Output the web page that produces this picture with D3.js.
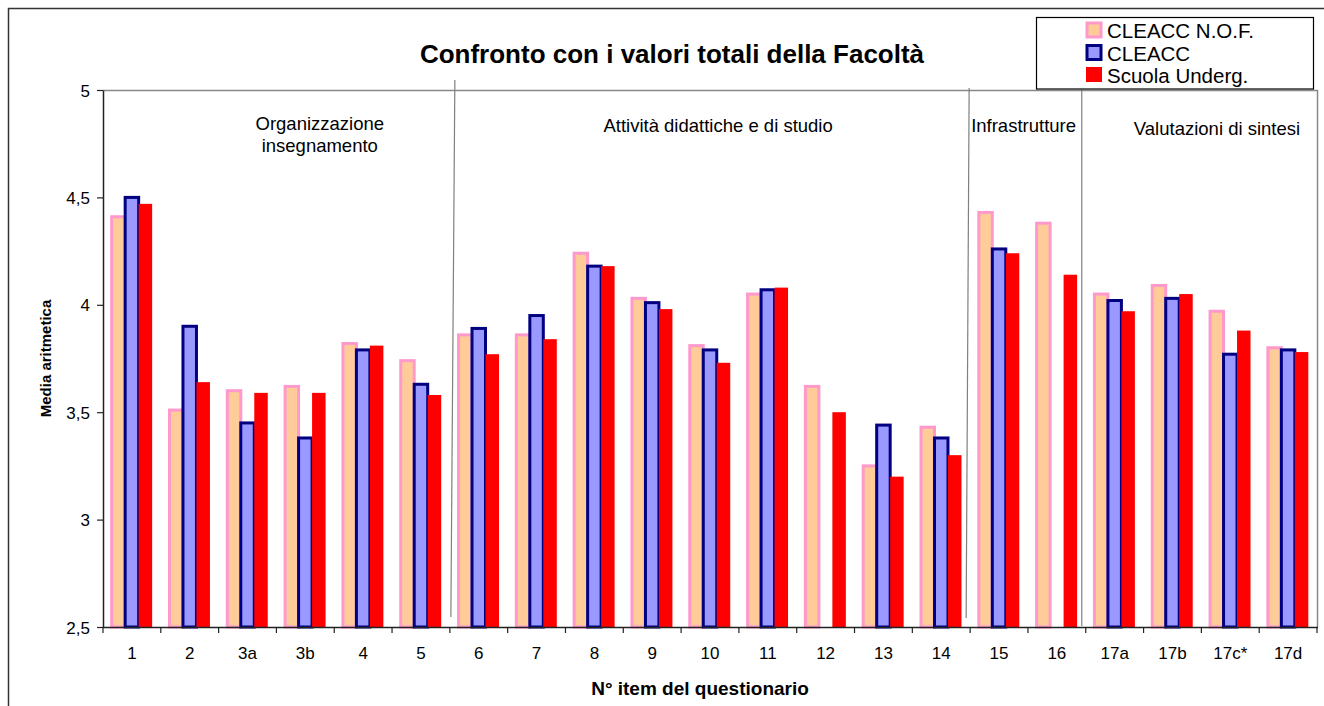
<!DOCTYPE html>
<html>
<head>
<meta charset="utf-8">
<script src="https://cdn.jsdelivr.net/npm/d3@7"></script>
<style>
  body { margin: 0; background: #fff; }
  svg { display: block; }
  text { font-family: "Liberation Sans", Arial, sans-serif; fill: #000; }
</style>
</head>
<body>
<svg id="chart" width="1324" height="706"></svg>
<script>
// Questionnaire items (x axis)
const categories = ["1","2","3a","3b","4","5","6","7","8","9","10","11","12","13","14","15","16","17a","17b","17c*","17d"];

// Mean scores per series (null = not surveyed)
const cleaccNOF = [4.41,3.51,3.60,3.62,3.82,3.74,3.86,3.86,4.24,4.03,3.81,4.05,3.62,3.25,3.43,4.43,4.38,4.05,4.09,3.97,3.80];
const cleacc    = [4.50,3.90,3.45,3.38,3.79,3.63,3.89,3.95,4.18,4.01,3.79,4.07,null,3.44,3.38,4.26,null,4.02,4.03,3.77,3.79];
const scuola    = [4.47,3.64,3.59,3.59,3.81,3.58,3.77,3.84,4.18,3.98,3.73,4.08,3.50,3.20,3.30,4.24,4.14,3.97,4.05,3.88,3.78];

const seriesNames = ["CLEACC N.O.F.", "CLEACC", "Scuola Underg."];
const yTicks = [2.5, 3, 3.5, 4, 4.5, 5];

// Questionnaire sections: label lines and first item of each section
const sectionLabels = [["Organizzazione", "insegnamento"], ["Attività didattiche e di studio"], ["Infrastrutture"], ["Valutazioni di sintesi"]];
const sectionFirst = ["1", "6", "15", "17a"];

const titleText = "Confronto con i valori totali della Facoltà";
const yTitle = "Media aritmetica";
const xTitle = "N° item del questionario";

const series = [
  { name: seriesNames[0], values: cleaccNOF, fill: "#FFCC99", stroke: "#FF99CC", sw: 3 },
  { name: seriesNames[1], values: cleacc,    fill: "#9999FF", stroke: "#000080", sw: 3 },
  { name: seriesNames[2], values: scuola,    fill: "#FF0000", stroke: "none",    sw: 0 }
];

const svg = d3.select("#chart");
const plot = { left: 103, right: 1317, top: 90, bottom: 627 };

const x0 = d3.scaleBand().domain(categories).range([plot.left, plot.right])
  .paddingInner(0.3).paddingOuter(0.15);
const x1 = d3.scaleBand().domain(d3.range(series.length)).range([0, x0.bandwidth()]);
const y = d3.scaleLinear().domain([2.5, 5]).range([plot.bottom, plot.top]);

const step = x0.step();
const boundary = c => x0(c) - step * x0.paddingInner() / 2;

// Outer chart frame (top and left edges visible)
svg.append("path").attr("d", "M8.5,706 V8.5 H1324")
  .attr("fill", "none").attr("stroke", "#333").attr("stroke-width", 1.5);

// Plot area border (top and right)
svg.append("path")
  .attr("d", `M${plot.left},${plot.top + 0.5} H${plot.right + 0.5} V${plot.bottom}`)
  .attr("fill", "none").attr("stroke", "#888").attr("stroke-width", 1.5);

// Bars, one layer per series
series.forEach((s, i) => {
  svg.append("g").selectAll("rect")
    .data(categories.map((c, k) => ({ c, v: s.values[k] })).filter(d => d.v != null))
    .join("rect")
    .attr("x", d => x0(d.c) + x1(i))
    .attr("y", d => y(d.v))
    .attr("width", x1.bandwidth())
    .attr("height", d => y(2.5) - y(d.v))
    .attr("fill", s.fill)
    .attr("stroke", s.stroke)
    .attr("stroke-width", s.sw);
});

// Section separator lines (drawn objects, slightly slanted)
const sepNudge = [[5, 80, 1, 617], [-1, 88, -4, 618], [-4, 88, -4, 626]];
sectionFirst.slice(1).forEach((c, k) => {
  const b = boundary(c);
  const n = sepNudge[k];
  svg.append("line")
    .attr("x1", b + n[0]).attr("y1", n[1])
    .attr("x2", b + n[2]).attr("y2", n[3])
    .attr("stroke", "#808080").attr("stroke-width", 1.2);
});

// Y axis
const yAxis = d3.axisLeft(y).tickValues(yTicks).tickSize(6).tickSizeOuter(0)
  .tickFormat(d => String(d).replace(".", ","));
const gy = svg.append("g").attr("transform", `translate(${plot.left},0)`).call(yAxis);
gy.select(".domain").attr("stroke", "#222").attr("stroke-width", 1.5);
gy.selectAll(".tick line").attr("stroke", "#222").attr("stroke-width", 1.2);
gy.selectAll(".tick text").attr("x", -13).attr("dy", "0.36em")
  .style("font-size", "17px").style("font-family", "'Liberation Sans', Arial, sans-serif");

// X axis: baseline, ticks between items, labels centered under groups
svg.append("line")
  .attr("x1", plot.left).attr("x2", plot.right + 1)
  .attr("y1", plot.bottom + 0.5).attr("y2", plot.bottom + 0.5)
  .attr("stroke", "#222").attr("stroke-width", 1.5);
const tickPos = categories.map(boundary).concat([boundary(categories[categories.length - 1]) + step]);
svg.append("g").selectAll("line").data(tickPos).join("line")
  .attr("x1", d => d).attr("x2", d => d)
  .attr("y1", plot.bottom).attr("y2", plot.bottom + 6)
  .attr("stroke", "#222").attr("stroke-width", 1.2);
svg.append("g").selectAll("text").data(categories).join("text")
  .attr("x", d => x0(d) + x0.bandwidth() / 2)
  .attr("y", 659)
  .attr("text-anchor", "middle")
  .style("font-size", "17px")
  .text(d => d);

// Section labels
const sectionPlace = [
  { dx: 0.75 * step, anchor: "middle", yb: 130 },
  { dx: 0.14 * step, anchor: "middle", yb: 132 },
  { dx: 1, anchor: "start", yb: 132 },
  { dx: 0.27 * step, anchor: "middle", yb: 135 }
];
sectionLabels.forEach((lines, k) => {
  const start = boundary(sectionFirst[k]);
  const end = k + 1 < sectionFirst.length ? boundary(sectionFirst[k + 1]) : plot.right;
  const p = sectionPlace[k];
  const xPos = p.anchor === "start" ? start + p.dx : (start + end) / 2 + p.dx;
  const t = svg.append("text")
    .attr("x", xPos).attr("y", p.yb)
    .attr("text-anchor", p.anchor)
    .style("font-size", "18.5px");
  lines.forEach((ln, j) => {
    t.append("tspan").attr("x", xPos).attr("dy", j === 0 ? 0 : 22).text(ln);
  });
});

// Title
svg.append("text")
  .attr("x", 672).attr("y", 63)
  .attr("text-anchor", "middle")
  .style("font-size", "26px").style("font-weight", "bold")
  .text(titleText);

// Axis titles
svg.append("text")
  .attr("transform", `translate(51,${(plot.top + plot.bottom) / 2}) rotate(-90)`)
  .attr("text-anchor", "middle")
  .style("font-size", "15px").style("font-weight", "bold")
  .text(yTitle);
svg.append("text")
  .attr("x", 700).attr("y", 695)
  .attr("text-anchor", "middle")
  .style("font-size", "19px").style("font-weight", "bold")
  .text(xTitle);

// Legend
const lg = svg.append("g");
lg.append("rect").attr("x", 1036.5).attr("y", 17.5).attr("width", 277).attr("height", 71.5)
  .attr("fill", "#fff").attr("stroke", "#000").attr("stroke-width", 1.2);
series.forEach((s, i) => {
  const base = 38 + i * 22.5;
  if (s.sw > 0) {
    lg.append("rect").attr("x", 1087).attr("y", base - 15).attr("width", 14).attr("height", 14)
      .attr("fill", s.fill).attr("stroke", s.stroke).attr("stroke-width", s.sw);
  } else {
    lg.append("rect").attr("x", 1086).attr("y", base - 16).attr("width", 16).attr("height", 15)
      .attr("fill", s.fill);
  }
  lg.append("text").attr("x", 1107).attr("y", base)
    .style("font-size", "20.5px").text(s.name);
});
</script>
</body>
</html>
